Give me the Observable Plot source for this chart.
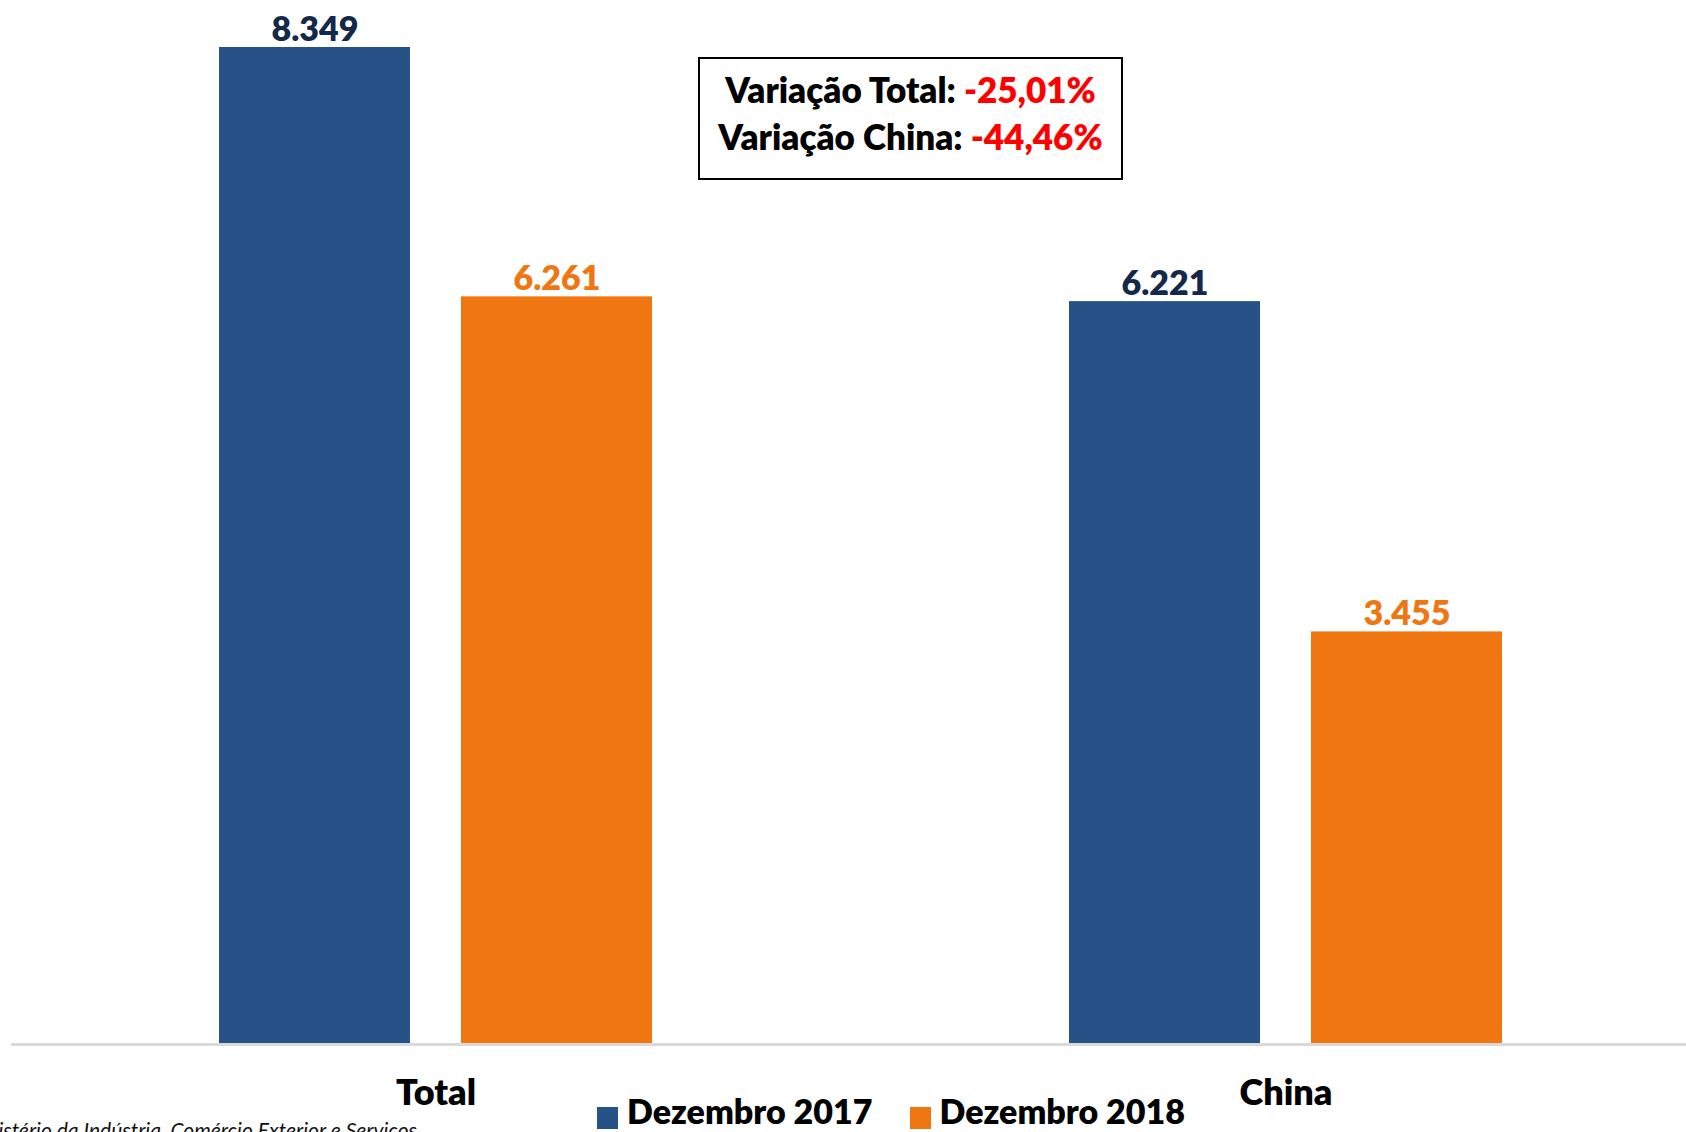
<!DOCTYPE html>
<html><head><meta charset="utf-8">
<script src="https://cdn.jsdelivr.net/npm/d3@7"></script>
<script src="https://cdn.jsdelivr.net/npm/@observablehq/plot@0.6"></script>
<style>
body{margin:0;background:#fff;}
#wrap{position:relative;width:1686px;height:1132px;overflow:hidden;font-family:Lato,"Open Sans",sans-serif;background:#fff;}
#wrap svg{position:absolute;left:0;top:0;}
#note{position:absolute;left:698px;top:57px;width:425px;height:123px;box-sizing:border-box;border:2px solid #000;
  text-align:center;font-weight:800;font-size:35px;line-height:47px;padding-top:7px;color:#000;background:#fff;}
#note .neg{color:#ff0000;}
#legend{position:absolute;left:597px;top:1094px;font-weight:800;font-size:34px;line-height:34px;white-space:nowrap;color:#000;}
#legend .item{display:inline-block;margin-right:37px;}
#legend .sw{display:inline-block;width:21px;height:22px;margin-right:9px;position:relative;top:5px;}
#source{position:absolute;right:1269px;top:1117px;font-style:italic;font-size:21px;white-space:nowrap;color:#111;}
</style></head><body><div id="wrap"></div>
<script>
const categories = ["Total", "China"];
const series = ["Dezembro 2017", "Dezembro 2018"];
const values2017 = [8349, 6221];
const values2018 = [6261, 3455];
const seriesColors = ["#265287", "#f07611"];
const labelColors = ["#14284a", "#f07611"];
const variationLabels = ["Variação Total: ", "Variação China: "];
const variationValues = ["-25,01%", "-44,46%"];
const sourceText = "Fonte: Ministério da Indústria, Comércio Exterior e Serviços";

const fmt = d3.formatLocale({decimal: ",", thousands: ".", grouping: [3], currency: ["R$", ""]}).format(",d");

const data = categories.flatMap((c, i) => [
  {category: c, series: series[0], value: values2017[i]},
  {category: c, series: series[1], value: values2018[i]}
]);

const common = {
  width: 1686,
  height: 1132,
  marginLeft: 11,
  marginRight: 0,
  marginTop: 47,
  marginBottom: 88,
  style: {fontFamily: "Lato, 'Open Sans', sans-serif", background: "transparent"}
};

const chart = Plot.plot({
  ...common,
  fx: {domain: categories, paddingInner: 0.491, paddingOuter: 0.23, align: 0.529, label: null},
  x: {domain: series, paddingInner: 0.211, paddingOuter: 0, axis: null},
  y: {domain: [0, 8349], axis: null},
  color: {domain: series, range: seriesColors},
  marks: [
    Plot.barY(data, {fx: "category", x: "series", y: "value", fill: "series"}),
    ...series.map((s, j) => Plot.text(data.filter(d => d.series === s), {
      fx: "category", x: "series", y: "value", text: d => fmt(d.value),
      lineAnchor: "bottom", dy: -7, fontSize: 34, fontWeight: 800, fill: labelColors[j]
    })),
    Plot.axisFx({anchor: "bottom", tickSize: 0, tickPadding: 35, fontSize: 36, fontWeight: 800, fill: "#000", label: null})
  ]
});

// full-width baseline drawn with the same y scale
const baseline = Plot.plot({
  ...common,
  y: {domain: [0, 8349], axis: null},
  marks: [Plot.ruleY([0], {stroke: "#d9d9d9", strokeWidth: 3})]
});

const wrap = document.getElementById("wrap");
wrap.appendChild(chart);
wrap.appendChild(baseline);

const note = document.createElement("div");
note.id = "note";
note.innerHTML = variationLabels.map((l, i) => `<div>${l}<span class="neg">${variationValues[i]}</span></div>`).join("");
wrap.appendChild(note);

const legend = document.createElement("div");
legend.id = "legend";
legend.innerHTML = series.map((s, i) => `<span class="item"><span class="sw" style="background:${seriesColors[i]}"></span>${s}</span>`).join("");
wrap.appendChild(legend);

const src = document.createElement("div");
src.id = "source";
src.textContent = sourceText;
wrap.appendChild(src);
</script>
</body></html>
